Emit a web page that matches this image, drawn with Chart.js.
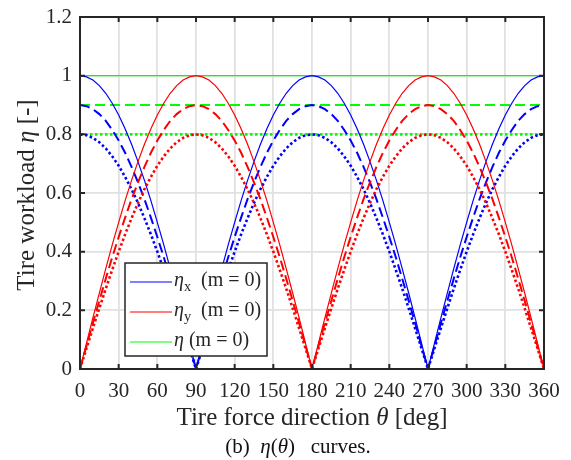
<!DOCTYPE html>
<html>
<head>
<meta charset="utf-8">
<script src="https://cdn.jsdelivr.net/npm/chart.js@4/dist/chart.umd.min.js"></script>
<style>
  html, body { margin: 0; padding: 0; background: #fff; }
  #wrap { width: 571px; height: 460px; }
</style>
</head>
<body>
<div id="wrap"><canvas id="etaChart" width="571" height="460"></canvas></div>
<script>
// theta in degrees, 5 deg steps
const theta = [0,5,10,15,20,25,30,35,40,45,50,55,60,65,70,75,80,85,90,
  95,100,105,110,115,120,125,130,135,140,145,150,155,160,165,170,175,180,
  185,190,195,200,205,210,215,220,225,230,235,240,245,250,255,260,265,270,
  275,280,285,290,295,300,305,310,315,320,325,330,335,340,345,350,355,360];

// eta_x, m = 0 (solid), then the two lower curves (dashed, dotted)
const etaX1 = [1.000,0.996,0.985,0.966,0.940,0.906,0.866,0.819,0.766,0.707,0.643,0.574,0.500,0.423,0.342,0.259,0.174,0.087,0.000,
  0.087,0.174,0.259,0.342,0.423,0.500,0.574,0.643,0.707,0.766,0.819,0.866,0.906,0.940,0.966,0.985,0.996,1.000,
  0.996,0.985,0.966,0.940,0.906,0.866,0.819,0.766,0.707,0.643,0.574,0.500,0.423,0.342,0.259,0.174,0.087,0.000,
  0.087,0.174,0.259,0.342,0.423,0.500,0.574,0.643,0.707,0.766,0.819,0.866,0.906,0.940,0.966,0.985,0.996,1.000];
const etaX2 = [0.900,0.896,0.886,0.869,0.846,0.815,0.779,0.737,0.689,0.636,0.579,0.516,0.450,0.381,0.308,0.233,0.157,0.078,0.000,
  0.078,0.157,0.233,0.308,0.381,0.450,0.516,0.579,0.636,0.689,0.737,0.779,0.815,0.846,0.869,0.886,0.896,0.900,
  0.896,0.886,0.869,0.846,0.815,0.779,0.737,0.689,0.636,0.579,0.516,0.450,0.381,0.308,0.233,0.157,0.078,0.000,
  0.078,0.157,0.233,0.308,0.381,0.450,0.516,0.579,0.636,0.689,0.737,0.779,0.815,0.846,0.869,0.886,0.896,0.900];
const etaX3 = [0.800,0.797,0.788,0.773,0.752,0.725,0.693,0.655,0.613,0.566,0.514,0.459,0.400,0.338,0.274,0.207,0.139,0.070,0.000,
  0.070,0.139,0.207,0.274,0.338,0.400,0.459,0.514,0.566,0.613,0.655,0.693,0.725,0.752,0.773,0.788,0.797,0.800,
  0.797,0.788,0.773,0.752,0.725,0.693,0.655,0.613,0.566,0.514,0.459,0.400,0.338,0.274,0.207,0.139,0.070,0.000,
  0.070,0.139,0.207,0.274,0.338,0.400,0.459,0.514,0.566,0.613,0.655,0.693,0.725,0.752,0.773,0.788,0.797,0.800];

// eta_y
const etaY1 = [0.000,0.087,0.174,0.259,0.342,0.423,0.500,0.574,0.643,0.707,0.766,0.819,0.866,0.906,0.940,0.966,0.985,0.996,1.000,
  0.996,0.985,0.966,0.940,0.906,0.866,0.819,0.766,0.707,0.643,0.574,0.500,0.423,0.342,0.259,0.174,0.087,0.000,
  0.087,0.174,0.259,0.342,0.423,0.500,0.574,0.643,0.707,0.766,0.819,0.866,0.906,0.940,0.966,0.985,0.996,1.000,
  0.996,0.985,0.966,0.940,0.906,0.866,0.819,0.766,0.707,0.643,0.574,0.500,0.423,0.342,0.259,0.174,0.087,0.000];
const etaY2 = [0.000,0.078,0.157,0.233,0.308,0.381,0.450,0.516,0.579,0.636,0.689,0.737,0.779,0.815,0.846,0.869,0.886,0.896,0.900,
  0.896,0.886,0.869,0.846,0.815,0.779,0.737,0.689,0.636,0.579,0.516,0.450,0.381,0.308,0.233,0.157,0.078,0.000,
  0.078,0.157,0.233,0.308,0.381,0.450,0.516,0.579,0.636,0.689,0.737,0.779,0.815,0.846,0.869,0.886,0.896,0.900,
  0.896,0.886,0.869,0.846,0.815,0.779,0.737,0.689,0.636,0.579,0.516,0.450,0.381,0.308,0.233,0.157,0.078,0.000];
const etaY3 = [0.000,0.070,0.139,0.207,0.274,0.338,0.400,0.459,0.514,0.566,0.613,0.655,0.693,0.725,0.752,0.773,0.788,0.797,0.800,
  0.797,0.788,0.773,0.752,0.725,0.693,0.655,0.613,0.566,0.514,0.459,0.400,0.338,0.274,0.207,0.139,0.070,0.000,
  0.070,0.139,0.207,0.274,0.338,0.400,0.459,0.514,0.566,0.613,0.655,0.693,0.725,0.752,0.773,0.788,0.797,0.800,
  0.797,0.788,0.773,0.752,0.725,0.693,0.655,0.613,0.566,0.514,0.459,0.400,0.338,0.274,0.207,0.139,0.070,0.000];

// total eta, flat lines
const thetaEnds = [0, 360];
const eta1 = [1.0, 1.0];
const eta2 = [0.9, 0.9];
const eta3 = [0.8, 0.8];

const xTicks = [0,30,60,90,120,150,180,210,240,270,300,330,360];
const yTicks = [0,0.2,0.4,0.6,0.8,1,1.2];

const SERIF = '"Liberation Serif", "DejaVu Serif", serif';
const BLUE = '#0000ff', RED = '#ff0000', GREEN = '#00ff00';

function pts(xs, ys) { return xs.map((x, i) => ({ x: x, y: ys[i] })); }

function line(label, xs, ys, color, style, order) {
  const ds = {
    label: label,
    data: pts(xs, ys),
    borderColor: color,
    backgroundColor: color,
    pointRadius: 0,
    tension: 0,
    fill: false,
    order: order,
    borderWidth: 1.2
  };
  if (style === 'dash') { ds.borderDash = [10, 5]; ds.borderWidth = 2; }
  if (style === 'dot') { ds.borderDash = [2.5, 2.5]; ds.borderWidth = 2.6; }
  return ds;
}

// rich text: parts = [{t, it, sub}]
function richWidth(ctx, parts, size) {
  let w = 0;
  parts.forEach(p => {
    const s = p.sub ? size * 0.72 : size;
    ctx.font = (p.it ? 'italic ' : '') + s + 'px ' + SERIF;
    w += ctx.measureText(p.t).width;
  });
  return w;
}
function drawRich(ctx, parts, x, y, size, align) {
  const w = richWidth(ctx, parts, size);
  let cx = align === 'center' ? x - w / 2 : x;
  ctx.textBaseline = 'middle';
  ctx.textAlign = 'left';
  parts.forEach(p => {
    const s = p.sub ? size * 0.72 : size;
    ctx.font = (p.it ? 'italic ' : '') + s + 'px ' + SERIF;
    ctx.fillText(p.t, cx, p.sub ? y + size * 0.3 : y);
    cx += ctx.measureText(p.t).width;
  });
}

const decor = {
  id: 'decor',
  afterDatasetsDraw(chart) {
    const ctx = chart.ctx;
    const a = chart.chartArea;
    const xs = chart.scales.x, ys = chart.scales.y;
    ctx.save();
    // box and inward ticks
    ctx.strokeStyle = '#262626';
    ctx.lineWidth = 2;
    ctx.strokeRect(a.left, a.top, a.right - a.left, a.bottom - a.top);
    ctx.beginPath();
    xTicks.forEach(v => {
      const px = xs.getPixelForValue(v);
      ctx.moveTo(px, a.bottom); ctx.lineTo(px, a.bottom - 5);
      ctx.moveTo(px, a.top); ctx.lineTo(px, a.top + 5);
    });
    yTicks.forEach(v => {
      const py = ys.getPixelForValue(v);
      ctx.moveTo(a.left, py); ctx.lineTo(a.left + 5, py);
      ctx.moveTo(a.right, py); ctx.lineTo(a.right - 5, py);
    });
    ctx.stroke();

    // legend box
    const lx = 125, ly = 263, lw = 142, lh = 93;
    ctx.fillStyle = '#fff';
    ctx.fillRect(lx, ly, lw, lh);
    ctx.lineWidth = 1.5;
    ctx.strokeRect(lx, ly, lw, lh);
    const items = [
      { c: BLUE, parts: [{ t: 'η', it: true }, { t: 'x', sub: true }, { t: '  (m = 0)' }] },
      { c: RED, parts: [{ t: 'η', it: true }, { t: 'y', sub: true }, { t: '  (m = 0)' }] },
      { c: GREEN, parts: [{ t: 'η', it: true }, { t: ' (m = 0)' }] }
    ];
    items.forEach((it, i) => {
      const yy = 282 + i * 30;
      ctx.strokeStyle = it.c;
      ctx.lineWidth = 1.2;
      ctx.beginPath();
      ctx.moveTo(130, yy); ctx.lineTo(172, yy);
      ctx.stroke();
      ctx.fillStyle = '#262626';
      drawRich(ctx, it.parts, 174, yy - 1, 20, 'left');
    });

    // axis titles and caption
    ctx.fillStyle = '#262626';
    drawRich(ctx, [{ t: 'Tire force direction ' }, { t: 'θ', it: true }, { t: ' [deg]' }],
      (a.left + a.right) / 2, 418, 25, 'center');
    ctx.save();
    ctx.translate(27, 195);
    ctx.rotate(-Math.PI / 2);
    drawRich(ctx, [{ t: 'Tire workload ' }, { t: 'η', it: true }, { t: ' [-]' }], 0, 0, 25, 'center');
    ctx.restore();
    ctx.fillStyle = '#111';
    drawRich(ctx, [{ t: '(b)  ' }, { t: 'η', it: true }, { t: '(' }, { t: 'θ', it: true }, { t: ')   curves.' }],
      298, 447, 21, 'center');
    ctx.restore();
  }
};

new Chart(document.getElementById('etaChart'), {
  type: 'line',
  data: {
    datasets: [
      line('η (m = 0)', thetaEnds, eta1, GREEN, 'solid', 9),
      line('η dashed', thetaEnds, eta2, GREEN, 'dash', 8),
      line('η dotted', thetaEnds, eta3, GREEN, 'dot', 7),
      line('ηx (m = 0)', theta, etaX1, BLUE, 'solid', 6),
      line('ηx dashed', theta, etaX2, BLUE, 'dash', 5),
      line('ηx dotted', theta, etaX3, BLUE, 'dot', 4),
      line('ηy (m = 0)', theta, etaY1, RED, 'solid', 3),
      line('ηy dashed', theta, etaY2, RED, 'dash', 2),
      line('ηy dotted', theta, etaY3, RED, 'dot', 1)
    ]
  },
  options: {
    responsive: false,
    animation: false,
    layout: { padding: { top: 17, right: 27, left: 0, bottom: 0 } },
    plugins: { legend: { display: false }, tooltip: { enabled: false }, title: { display: false } },
    scales: {
      x: {
        type: 'linear',
        min: 0, max: 360,
        afterFit(s) { s.height = 91; s.paddingLeft = 0; s.paddingRight = 0; },
        afterBuildTicks(s) { s.ticks = xTicks.map(v => ({ value: v })); },
        grid: { color: '#e1e1e1', lineWidth: 1.8, drawTicks: false },
        border: { display: false },
        ticks: { padding: 10, maxRotation: 0, autoSkip: false, color: '#262626',
                 font: { family: SERIF, size: 21 } }
      },
      y: {
        min: 0, max: 1.2,
        afterFit(s) { s.width = 80; s.paddingTop = 0; s.paddingBottom = 0; },
        afterBuildTicks(s) { s.ticks = yTicks.map(v => ({ value: v })); },
        grid: { color: '#e1e1e1', lineWidth: 1.8, drawTicks: false },
        border: { display: false },
        ticks: { padding: 8, color: '#262626', font: { family: SERIF, size: 21 },
                 callback: v => String(Math.round(v * 10) / 10) }
      }
    }
  },
  plugins: [decor]
});
</script>
</body>
</html>
